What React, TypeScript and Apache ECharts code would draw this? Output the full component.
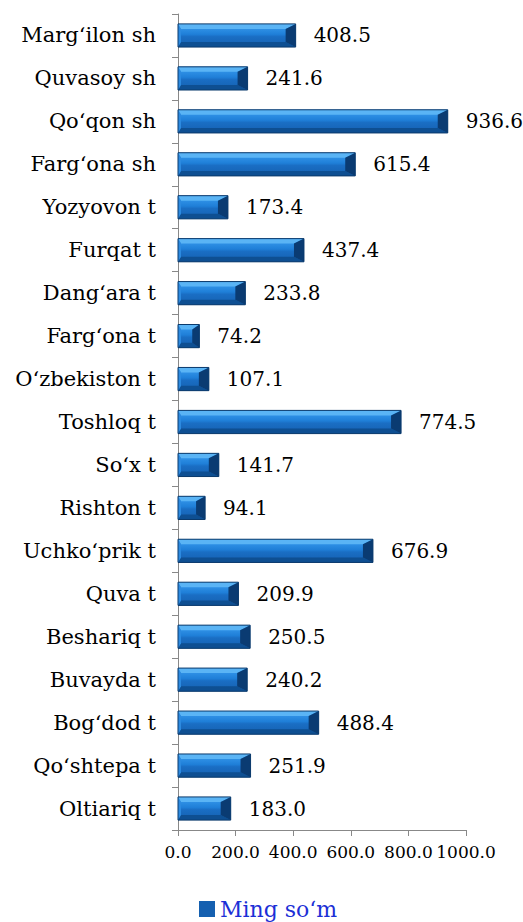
import React, { useEffect, useRef } from "react";
import * as echarts from "echarts";

const categories = [
  "Marg‘ilon sh",
  "Quvasoy sh",
  "Qo‘qon sh",
  "Farg‘ona sh",
  "Yozyovon t",
  "Furqat t",
  "Dang‘ara t",
  "Farg‘ona t",
  "O‘zbekiston t",
  "Toshloq t",
  "So‘x t",
  "Rishton t",
  "Uchko‘prik t",
  "Quva t",
  "Beshariq t",
  "Buvayda t",
  "Bog‘dod t",
  "Qo‘shtepa t",
  "Oltiariq t",
];
const values = [408.5, 241.6, 936.6, 615.4, 173.4, 437.4, 233.8, 74.2, 107.1, 774.5, 141.7, 94.1, 676.9, 209.9, 250.5, 240.2, 488.4, 251.9, 183.0];
const seriesName = "Ming so‘m";
const xTicks = [0, 200, 400, 600, 800, 1000];

const FONT = "DejaVu Serif";

export default function App() {
  const ref = useRef<HTMLDivElement>(null);
  useEffect(() => {
    if (!ref.current) return;
    const chart = echarts.init(ref.current, null, { renderer: "svg" });
    const data = values.map((v, i) => [v, i]);
    chart.setOption({
      animation: false,
      backgroundColor: "#ffffff",
      textStyle: { fontFamily: FONT },
      grid: { left: 178, right: 57, top: 14, bottom: 92, containLabel: false },
      legend: {
        show: true,
        left: 194,
        top: 893,
        itemWidth: 16,
        itemHeight: 16,
        itemGap: 6,
        icon: "rect",
        textStyle: { color: "#1c2fd6", fontFamily: FONT, fontSize: 22 },
        data: [{ name: seriesName, itemStyle: { color: "#1560b0" } }],
      },
      xAxis: {
        type: "value",
        min: xTicks[0],
        max: xTicks[xTicks.length - 1],
        interval: 200,
        splitLine: { show: false },
        axisLine: { show: true, lineStyle: { color: "#888888", width: 1 } },
        axisTick: { show: true, length: 6, lineStyle: { color: "#888888" } },
        axisLabel: {
          margin: 13,
          color: "#000",
          fontFamily: FONT,
          fontSize: 17,
          formatter: (v: number) => v.toFixed(1),
        },
      },
      yAxis: {
        type: "category",
        data: categories,
        inverse: true,
        axisLine: { show: true, lineStyle: { color: "#888888", width: 1 } },
        axisTick: { show: true, length: 6, lineStyle: { color: "#888888" } },
        axisLabel: { margin: 22, color: "#000", fontFamily: FONT, fontSize: 21 },
      },
      series: [
        {
          type: "custom",
          name: seriesName,
          itemStyle: { color: "#1560b0" },
          encode: { x: 0, y: 1 },
          data,
          renderItem: (params: any, api: any) => {
            const v = api.value(0);
            const idx = api.value(1);
            const p0 = api.coord([0, idx]);
            const p1 = api.coord([v, idx]);
            const band = api.size([0, 1])[1];
            const h = band * 0.54;
            const x0 = p0[0];
            const x1 = p1[0];
            const y0 = p0[1] - h / 2;
            const y1 = p0[1] + h / 2;
            const w = x1 - x0;
            const b = 5;
            const e = Math.min(10, w / 3);
            const bl = Math.min(3, w / 6);
            return {
              type: "group",
              children: [
                {
                  type: "rect",
                  shape: { x: x0, y: y0, width: w, height: h },
                  style: {
                    fill: new echarts.graphic.LinearGradient(0, 0, 0, 1, [
                      { offset: 0, color: "#3b9ef0" },
                      { offset: 0.45, color: "#1f7fd8" },
                      { offset: 0.55, color: "#1a6ec4" },
                      { offset: 1, color: "#1560b0" },
                    ]),
                  },
                },
                {
                  type: "polygon",
                  shape: { points: [[x0, y0], [x1, y0], [x1 - e, y0 + b], [x0 + bl, y0 + b]] },
                  style: { fill: "#5ab4f5" },
                },
                {
                  type: "polygon",
                  shape: { points: [[x0, y1], [x1, y1], [x1 - e, y1 - b], [x0 + bl, y1 - b]] },
                  style: { fill: "#0e4f92" },
                },
                {
                  type: "polygon",
                  shape: { points: [[x1, y0], [x1, y1], [x1 - e, y1 - b], [x1 - e, y0 + b]] },
                  style: { fill: "#0a3b72" },
                },
                {
                  type: "polygon",
                  shape: { points: [[x0, y0], [x0, y1], [x0 + bl, y1 - b], [x0 + bl, y0 + b]] },
                  style: { fill: "#2c8ae0" },
                },
                {
                  type: "rect",
                  shape: { x: x0, y: y0, width: w, height: h },
                  style: { fill: "none", stroke: "#0b3a6c", lineWidth: 1 },
                },
                {
                  type: "text",
                  x: x1 + 18,
                  y: p0[1],
                  style: {
                    text: v.toFixed(1),
                    fill: "#000",
                    fontFamily: FONT,
                    fontSize: 20,
                    align: "left",
                    verticalAlign: "middle",
                  },
                },
              ],
            };
          },
        },
      ],
    });
    return () => chart.dispose();
  }, []);
  return <div ref={ref} style={{ position: "fixed", left: 0, top: 0, width: 523, height: 922 }} />;
}
